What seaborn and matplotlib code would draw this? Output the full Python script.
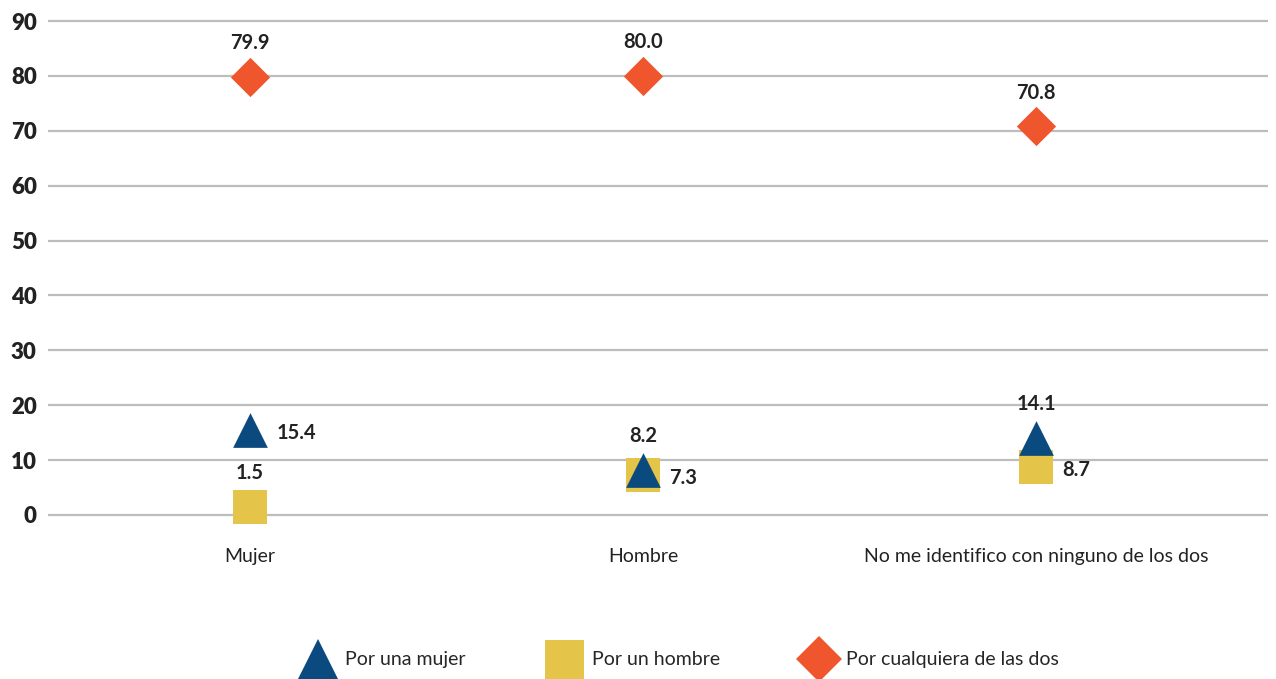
import numpy as np
import pandas as pd
import matplotlib
matplotlib.use("Agg")
import matplotlib.pyplot as plt
import seaborn as sns

# Data
categories = ["Mujer", "Hombre", "No me identifico con ninguno de los dos"]
series = ["Por una mujer", "Por un hombre", "Por cualquiera de las dos"]
por_una_mujer = [15.4, 8.2, 14.1]
por_un_hombre = [1.5, 7.3, 8.7]
por_cualquiera = [79.9, 80.0, 70.8]

colors = {"Por una mujer": "#0b4a7e",
          "Por un hombre": "#e5c44a",
          "Por cualquiera de las dos": "#f0562d"}
markers = {"Por una mujer": "^",
           "Por un hombre": "s",
           "Por cualquiera de las dos": "D"}
sizes = {"Por una mujer": 25, "Por un hombre": 24, "Por cualquiera de las dos": 20}
# where each value label goes, per series and category
label_pos = {"Por una mujer": ["right", "above", "above"],
             "Por un hombre": ["above", "right", "right"],
             "Por cualquiera de las dos": ["above", "above", "above"]}

df = pd.DataFrame({
    "cat": np.tile(np.arange(len(categories)), 3),
    "serie": np.repeat(series, len(categories)),
    "valor": por_una_mujer + por_un_hombre + por_cualquiera,
})

sns.set_style("white")
plt.rcParams["font.family"] = ["Lato", "DejaVu Sans"]

fig = plt.figure(figsize=(12.76, 6.79), dpi=100)
ax = fig.add_axes([0.0376, 0.2335, 0.9561, 0.7435])

for y in range(0, 100, 10):
    ax.axhline(y, color="#bdbdbd", lw=1.6, zorder=0)

# draw in order: square, triangle, diamond (triangle on top of square)
for s in ["Por un hombre", "Por una mujer", "Por cualquiera de las dos"]:
    sub = df[df["serie"] == s]
    sns.scatterplot(data=sub, x="cat", y="valor", marker=markers[s],
                    s=sizes[s] ** 2, color=colors[s], linewidth=0,
                    ax=ax, zorder=3, clip_on=False, legend=False)
    for (_, r), pos in zip(sub.iterrows(), label_pos[s]):
        if pos == "above":
            off, ha, va = (0, 17), "center", "bottom"
        else:
            off, ha, va = (19, -2), "left", "center"
        ax.annotate(f"{r['valor']:.1f}", (r["cat"], r["valor"]), xytext=off,
                    textcoords="offset points", ha=ha, va=va,
                    fontsize=14.5, fontweight="bold", color="#222222")

ax.set_xlim(-0.514, 2.59)
ax.set_ylim(-1, 91)
ax.set_yticks(range(0, 100, 10))
ax.set_yticklabels([str(v) for v in range(0, 100, 10)], fontsize=16,
                   fontweight="heavy", color="#222222")
ax.set_xticks(range(len(categories)))
ax.set_xticklabels(categories, fontsize=14, color="#222222")
ax.tick_params(axis="x", length=0, pad=20)
ax.tick_params(axis="y", length=0, pad=8)
for side in ax.spines.values():
    side.set_visible(False)
ax.set_xlabel("")
ax.set_ylabel("")

handles = [plt.Line2D([], [], linestyle="none", marker=markers[s],
                      markersize=sizes[s] * 1.17, color=colors[s],
                      markeredgewidth=0) for s in series]
fig.legend(handles, series, loc="center", ncol=3, frameon=False,
           bbox_to_anchor=(0.531, 0.028), fontsize=14, handletextpad=0.3,
           columnspacing=4.0, handlelength=2.2, borderpad=0)

fig.savefig("out.png", dpi=100)
